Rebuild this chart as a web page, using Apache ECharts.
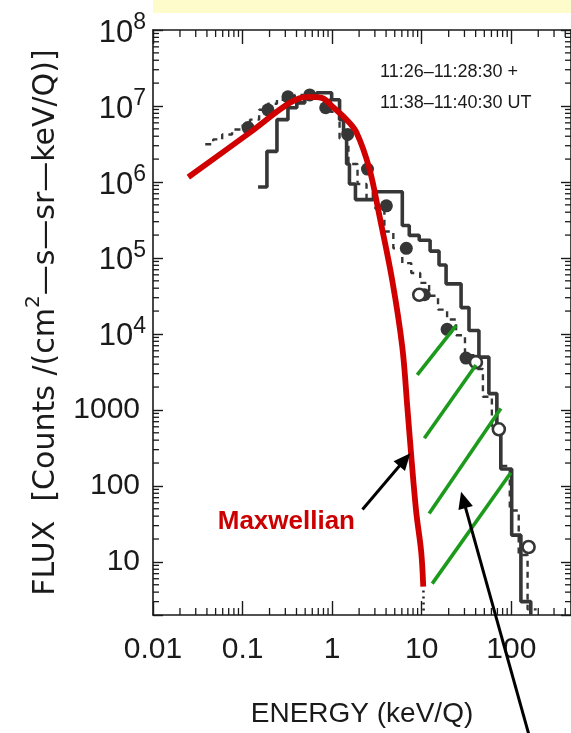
<!DOCTYPE html>
<html><head><meta charset="utf-8">
<script src="https://cdn.jsdelivr.net/npm/echarts@6/dist/echarts.min.js"></script>
<style>html,body{margin:0;padding:0;background:#fff;}#c{width:571px;height:733px;}</style>
</head><body><div id="c"></div>
<script>
// ---- axes ----
const X_MIN = 0.01, X_MAX = 464;
const Y_MIN = 2, Y_MAX = 1e8;
const xTickValues = [0.01, 0.1, 1, 10, 100];
const xTickLabels = ['0.01', '0.1', '1', '10', '100'];
const yTickValues = [10, 100, 1000, 1e4, 1e5, 1e6, 1e7, 1e8];
const yTickLabels = ['10', '100', '1000', '10|4', '10|5', '10|6', '10|7', '10|8'];

// ---- Maxwellian fit (red) ----
const maxwellE = [0.0248, 0.121, 0.337, 0.535, 0.764, 1.01, 1.45, 1.87, 2.61, 3.37, 4.70, 6.07, 6.90, 7.64, 8.69, 9.87, 10.4];
const maxwellF = [1.16e6, 4.48e6, 1.10e7, 1.32e7, 1.28e7, 9.8e6, 6.6e6, 4.48e6, 1.48e6, 3.6e5, 4.99e4, 6.7e3, 1.11e3, 247, 44.8, 13.5, 4.72];
// dotted continuation below the red curve
const tailE = [10.45, 10.5];
const tailF = [4.2, 2.1];

// ---- solid histogram (bin edges, counts per bin) ----
const solidEdges = [0.149, 0.187, 0.242, 0.321, 0.403, 0.495, 0.673, 0.987, 1.21, 1.34, 1.45, 1.56, 1.82, 2.89, 6.07, 7.26, 9.38, 12.4, 15.6, 18.7, 27.5, 33.7, 43.5, 56.2, 69.0, 76.4, 101, 128, 165];
const solidFlux = [8.6e5, 2.53e6, 6.61e6, 9.48e6, 1.10e7, 1.28e7, 1.49e7, 1.21e7, 6.61e6, 4.22e6, 1.72e6, 9.42e5, 5.86e5, 7.45e5, 2.67e5, 1.98e5, 1.71e5, 1.23e5, 8.06e4, 4.56e4, 2.22e4, 1.11e4, 4.96e3, 1.64e3, 608, 167, 22.5, 3.0];

// ---- dashed histogram ----
const dashedEdges = [0.0383, 0.0470, 0.0592, 0.0764, 0.0962, 0.121, 0.153, 0.192, 0.242, 0.304, 0.383, 0.482, 0.607, 0.764, 0.962, 1.21, 1.52, 1.92, 2.42, 3.04, 3.83, 4.82, 6.07, 7.64, 9.62, 12.1, 15.2, 19.2, 24.2, 30.4, 38.3, 48.2, 60.7, 76.4, 96.2, 121, 152, 192];
const dashedFlux = [3.13e6, 3.63e6, 4.22e6, 4.90e6, 5.52e6, 6.61e6, 8.91e6, 1.07e7, 1.21e7, 1.28e7, 1.40e7, 1.44e7, 1.40e7, 1.21e7, 8.40e6, 3.74e6, 1.72e6, 9.42e5, 6.01e5, 4.45e5, 2.23e5, 1.34e5, 8.55e4, 6.34e4, 4.70e4, 3.18e4, 2.09e4, 1.55e4, 9.59e3, 5.26e3, 3.46e3, 1.49e3, 608, 183, 47.5, 12.3, 2.37];

// ---- measured points ----
const filledE = [0.115, 0.192, 0.321, 0.562, 0.847, 1.49, 2.48, 4.03, 6.73, 10.7, 19.2, 31.2];
const filledF = [5.20e6, 8.91e6, 1.32e7, 1.40e7, 9.48e6, 4.22e6, 1.48e6, 4.86e5, 1.34e5, 3.28e4, 1.15e4, 4.81e3];
const openE = [9.38, 40.3, 72.6, 156];
const openF = [3.28e4, 4.25e3, 556, 15.7];

// ---- green hatch lines (start / end) ----
const hatchE0 = [8.91, 10.7, 12.1, 13.1];
const hatchF0 = [2890, 424, 43.4, 5.18];
const hatchE1 = [24.2, 40.3, 76.4, 98.7];
const hatchF1 = [1.29e4, 3900, 1043, 149];

// ---- annotation arrows (tail -> tip) ----
const arrowTailE = [2.18, 161];
const arrowTailF = [49.0, 0.0481];
const arrowTipE = [7.45, 27.5];
const arrowTipF = [270, 84];

const FONT = "'Liberation Sans', Arial, sans-serif";
const TFONT = "'DejaVu Sans', 'Liberation Sans', sans-serif";
const INK = '#1a1a1a';
const DARK = '#363636';

// minor tick positions (2..9 per decade)
const xMinor = [], yMinor = [];
for (let d = -2; d <= 3; d++) for (let m = 2; m <= 9; m++) { const v = m * Math.pow(10, d); if (v > X_MIN && v < X_MAX) xMinor.push(v); }
for (let d = 0; d <= 7; d++) for (let m = 2; m <= 9; m++) { const v = m * Math.pow(10, d); if (v > Y_MIN && v < Y_MAX) yMinor.push(v); }

function histPoints(edges, flux, dropTo) {
  const pts = edges.map((e, i) => [e, flux[Math.min(i, flux.length - 1)]]);
  if (dropTo != null) pts.push([edges[edges.length - 1], dropTo]);
  return pts;
}
function isDecade(v) { const l = Math.log10(v); return Math.abs(l - Math.round(l)) < 1e-6; }
function findIdx(arr, v) { for (let i = 0; i < arr.length; i++) if (Math.abs(arr[i] - v) / arr[i] < 1e-6) return i; return -1; }

const chart = echarts.init(document.getElementById('c'), null, { renderer: 'canvas' });

const axisLine = { show: true, lineStyle: { color: INK, width: 1.6 } };
const option = {
  animation: false,
  backgroundColor: '#fff',
  grid: { left: 153, top: 30, width: 420, height: 591, containLabel: false },
  xAxis: [{
    type: 'log', min: X_MIN, max: X_MAX, position: 'bottom',
    axisLine: axisLine,
    axisTick: { show: true, inside: true, length: 14, lineStyle: { color: INK, width: 1.4 } },
    splitLine: { show: false },
    axisLabel: {
      show: true, margin: 20, fontSize: 30, fontFamily: FONT, color: INK,
      showMaxLabel: false,
      formatter: v => { if (!isDecade(v)) return ''; const i = findIdx(xTickValues, v); return i < 0 ? '' : xTickLabels[i]; }
    },
    name: 'ENERGY (keV/Q)', nameLocation: 'middle', nameGap: 85,
    nameTextStyle: { fontSize: 28, fontFamily: FONT, color: INK }
  }, {
    type: 'log', min: X_MIN, max: X_MAX, position: 'top',
    axisLine: axisLine,
    axisTick: { show: true, inside: true, length: 14, lineStyle: { color: INK, width: 1.4 } },
    axisLabel: { show: false }, splitLine: { show: false }
  }],
  yAxis: [{
    type: 'log', min: Y_MIN, max: Y_MAX, position: 'left',
    axisLine: axisLine,
    axisTick: { show: true, inside: true, length: 10, lineStyle: { color: INK, width: 1.4 } },
    splitLine: { show: false },
    axisLabel: {
      show: true, margin: 7, fontFamily: FONT, color: INK, fontSize: 30,
      formatter: v => {
        if (!isDecade(v)) return '';
        const i = findIdx(yTickValues, v); if (i < 0) return '';
        const s = yTickLabels[i];
        if (s.indexOf('|') >= 0) { const p = s.split('|'); return '{b|' + p[0] + '}{s|' + p[1] + '}'; }
        return '{p|' + s + '}';
      },
      rich: {
        b: { fontSize: 31, fontFamily: FONT, color: INK, padding: [6, 0, 0, 0] },
        s: { fontSize: 23, fontFamily: FONT, color: INK, verticalAlign: 'top' },
        p: { fontSize: 30, fontFamily: FONT, color: INK, padding: [0, 6, 0, 0] }
      }
    },
    name: '{t|FLUX  [Counts /(cm}{s|2}{t|\u2014s\u2014sr\u2014keV/Q)]}', nameLocation: 'middle', nameGap: 92, nameRotate: 90,
    nameTextStyle: {
      fontSize: 30, fontFamily: TFONT, color: INK,
      rich: {
        t: { fontSize: 30, fontFamily: TFONT, color: INK, padding: [7, 0, 0, 0] },
        s: { fontSize: 20, fontFamily: TFONT, color: INK, verticalAlign: 'top' }
      }
    }
  }, {
    type: 'log', min: Y_MIN, max: Y_MAX, position: 'right',
    axisLine: axisLine,
    axisTick: { show: true, inside: true, length: 10, lineStyle: { color: INK, width: 1.4 } },
    axisLabel: { show: false }, splitLine: { show: false }
  }],
  series: [
    { // minor x ticks (bottom and top)
      type: 'custom', silent: true, z: 5, clip: false,
      data: xMinor.map(v => [v, Y_MIN]),
      renderItem: (params, api) => {
        const v = api.value(0);
        const b = api.coord([v, Y_MIN]), t = api.coord([v, Y_MAX]);
        const st = { stroke: INK, lineWidth: 1.3 };
        return { type: 'group', children: [
          { type: 'line', shape: { x1: b[0], y1: b[1], x2: b[0], y2: b[1] - 7 }, style: st },
          { type: 'line', shape: { x1: t[0], y1: t[1], x2: t[0], y2: t[1] + 7 }, style: st }
        ] };
      }
    },
    { // minor y ticks (left and right)
      type: 'custom', silent: true, z: 5, clip: false,
      data: yMinor.map(v => [X_MIN, v]),
      renderItem: (params, api) => {
        const v = api.value(1);
        const l = api.coord([X_MIN, v]), r = api.coord([X_MAX, v]);
        const st = { stroke: INK, lineWidth: 1.3 };
        return { type: 'group', children: [
          { type: 'line', shape: { x1: l[0], y1: l[1], x2: l[0] + 6, y2: l[1] }, style: st },
          { type: 'line', shape: { x1: r[0], y1: r[1], x2: r[0] - 6, y2: r[1] }, style: st }
        ] };
      }
    },
    {
      name: 'solid', type: 'line', step: 'end', showSymbol: false, symbol: 'none', z: 2,
      data: histPoints(solidEdges, solidFlux, Y_MIN),
      lineStyle: { color: DARK, width: 3.6 }
    },
    {
      name: 'dashed', type: 'line', step: 'end', showSymbol: false, symbol: 'none', z: 2,
      data: histPoints(dashedEdges, dashedFlux, null),
      lineStyle: { color: DARK, width: 2.4, type: [6, 5] }
    },
    {
      name: 'filled', type: 'scatter', symbol: 'circle', symbolSize: 13, z: 3,
      data: filledE.map((e, i) => [e, filledF[i]]),
      itemStyle: { color: DARK, opacity: 1 }
    },
    {
      name: 'open', type: 'scatter', symbol: 'circle', symbolSize: 12, z: 3,
      data: openE.map((e, i) => [e, openF[i]]),
      itemStyle: { color: '#fff', borderColor: DARK, borderWidth: 2.6, opacity: 1 }
    },
    {
      name: 'Maxwellian', type: 'line', smooth: 0.35, showSymbol: false, symbol: 'none', z: 4,
      data: maxwellE.map((e, i) => [e, maxwellF[i]]),
      lineStyle: { color: '#d10000', width: 5.8, cap: 'butt' }
    },
    {
      name: 'tail', type: 'line', showSymbol: false, symbol: 'none', z: 4,
      data: tailE.map((e, i) => [e, tailF[i]]),
      lineStyle: { color: '#222', width: 2.5, type: [2, 4] }
    }
  ].concat(hatchE0.map((e, i) => ({
    type: 'line', showSymbol: false, symbol: 'none', z: 6,
    data: [[e, hatchF0[i]], [hatchE1[i], hatchF1[i]]],
    lineStyle: { color: '#1c9a1c', width: 3.6 }
  })))
};
chart.setOption(option);

// annotations anchored via the chart's own scales
const gfx = [
  { type: 'rect', shape: { x: 153, y: 0, width: 420, height: 13 }, style: { fill: '#fffccc' }, z: 100 },
  { type: 'text', x: 380, y: 72, style: { text: '11:26\u201311:28:30 +', fontSize: 18, fontFamily: FONT, fill: INK, textVerticalAlign: 'middle' }, z: 100 },
  { type: 'text', x: 380, y: 103, style: { text: '11:38\u201311:40:30 UT', fontSize: 18, fontFamily: FONT, fill: INK, textVerticalAlign: 'middle' }, z: 100 },
  { type: 'text', x: 355, y: 522, style: { text: 'Maxwellian', fontSize: 26, fontWeight: 'bold', fontFamily: FONT, fill: '#cc0000', textAlign: 'right', textVerticalAlign: 'middle' }, z: 100 }
];
for (let i = 0; i < arrowTipE.length; i++) {
  const t = chart.convertToPixel({ xAxisIndex: 0, yAxisIndex: 0 }, [arrowTailE[i], arrowTailF[i]]);
  const p = chart.convertToPixel({ xAxisIndex: 0, yAxisIndex: 0 }, [arrowTipE[i], arrowTipF[i]]);
  const dx = p[0] - t[0], dy = p[1] - t[1], L = Math.hypot(dx, dy);
  const ux = dx / L, uy = dy / L, nx = -uy, ny = ux;
  const hl = 17, hw = 7.5;
  const bx = p[0] - ux * hl, by = p[1] - uy * hl;
  gfx.push({ type: 'line', shape: { x1: t[0], y1: t[1], x2: p[0] - ux * 10, y2: p[1] - uy * 10 }, style: { stroke: '#000', lineWidth: 3 }, z: 100 });
  gfx.push({ type: 'polygon', shape: { points: [[p[0], p[1]], [bx + nx * hw, by + ny * hw], [bx - nx * hw, by - ny * hw]] }, style: { fill: '#000' }, z: 100 });
}
chart.setOption({ graphic: { elements: gfx } });
</script></body></html>
